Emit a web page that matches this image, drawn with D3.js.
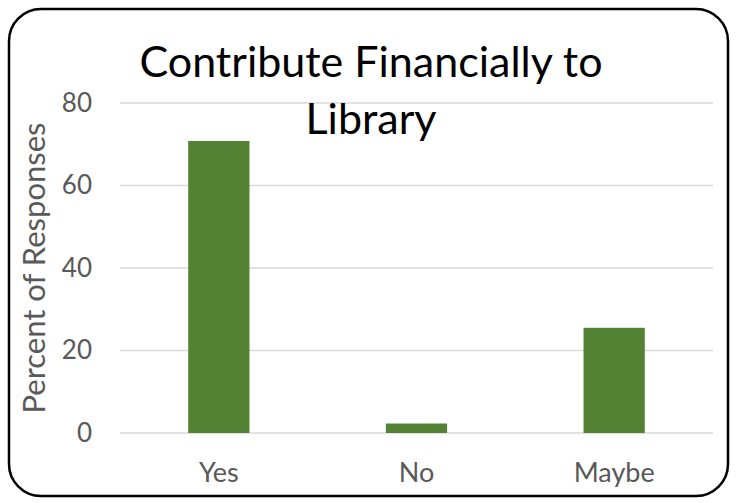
<!DOCTYPE html>
<html lang="en">
<head>
    <meta charset="UTF-8">
    <title>Contribute Financially to Library</title>
    <script src="https://d3js.org/d3.v7.min.js"></script>
    <style>
        body { margin: 0; background: #fff; }
        text { font-family: Lato, "Open Sans", sans-serif; }
    </style>
</head>
<body>
<script>
    // chart data
    var categories = ["Yes", "No", "Maybe"];
    var percents = [70.8, 2.3, 25.5];
    var yTicks = [0, 20, 40, 60, 80];
    var titleLines = ["Contribute Financially to", "Library"];
    var yLabel = "Percent of Responses";

    var W = 737, H = 503;
    var margin = {top: 103, right: 24, bottom: 70, left: 120};
    var w = W - margin.left - margin.right,
        h = H - margin.top - margin.bottom;

    var svg = d3.select('body')
        .append('svg')
        .attr('width', W)
        .attr('height', H);

    // rounded frame
    svg.append('rect')
        .attr('x', 9).attr('y', 9)
        .attr('width', W - 18).attr('height', H - 16)
        .attr('rx', 32).attr('ry', 32)
        .attr('fill', '#fff')
        .attr('stroke', '#000')
        .attr('stroke-width', 2.5);

    var g = svg.append('g')
        .attr('transform', 'translate(' + margin.left + ',' + margin.top + ')');

    var x = d3.scaleBand()
        .domain(categories)
        .range([0, w])
        .paddingInner(0.69)
        .paddingOuter(0.345);

    var y = d3.scaleLinear()
        .domain([0, 80])
        .range([h, 0]);

    // gridlines
    g.selectAll('.grid')
        .data(yTicks)
        .enter()
        .append('line')
        .attr('class', 'grid')
        .attr('x1', 0).attr('x2', w)
        .attr('y1', d => y(d)).attr('y2', d => y(d))
        .attr('stroke', '#d9d9d9')
        .attr('stroke-width', 1.5);

    // bars
    g.selectAll('.bar')
        .data(percents)
        .enter()
        .append('rect')
        .attr('class', 'bar')
        .attr('x', (d, i) => x(categories[i]))
        .attr('width', x.bandwidth())
        .attr('y', d => y(d))
        .attr('height', d => h - y(d))
        .attr('fill', '#548235');

    // y axis (ticks only, no domain line)
    var yAxis = g.append('g')
        .call(d3.axisLeft(y).tickValues(yTicks).tickSize(0).tickPadding(28));
    yAxis.select('.domain').remove();
    yAxis.selectAll('text')
        .attr('fill', '#595959')
        .style('font-size', '26px');

    // x axis
    var xAxis = g.append('g')
        .attr('transform', 'translate(0,' + h + ')')
        .call(d3.axisBottom(x).tickSize(0).tickPadding(30));
    xAxis.select('.domain').remove();
    xAxis.selectAll('text')
        .attr('fill', '#595959')
        .style('font-size', '27px');

    // y label
    svg.append('text')
        .attr('transform', 'translate(45,268) rotate(-90)')
        .attr('text-anchor', 'middle')
        .attr('fill', '#595959')
        .style('font-size', '31px')
        .text(yLabel);

    // title
    svg.selectAll('.title')
        .data(titleLines)
        .enter()
        .append('text')
        .attr('class', 'title')
        .attr('x', 371)
        .attr('y', (d, i) => 77 + i * 56.5)
        .attr('text-anchor', 'middle')
        .attr('fill', '#000')
        .style('font-size', '43px')
        .text(d => d);
</script>
</body>
</html>
